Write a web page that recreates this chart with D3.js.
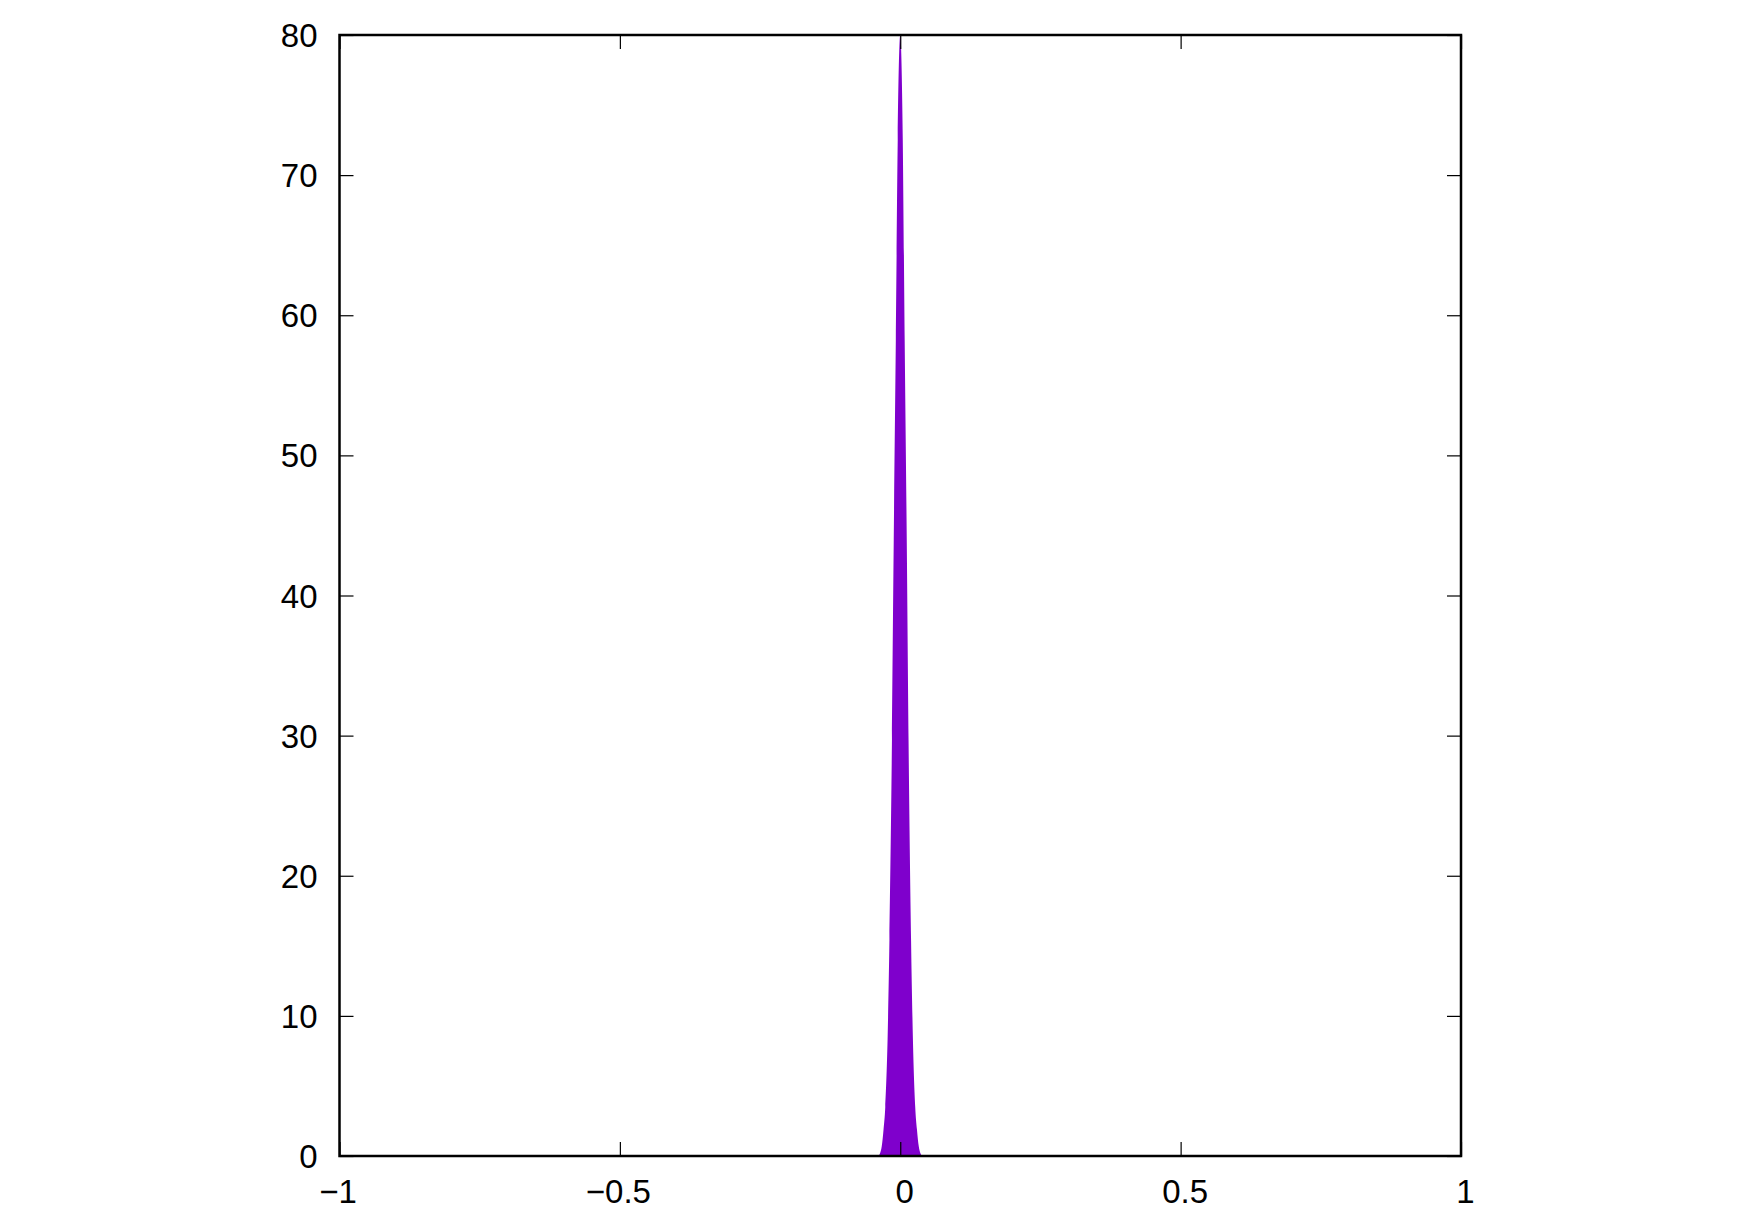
<!DOCTYPE html>
<html>
<head>
<meta charset="utf-8">
<script src="https://cdn.jsdelivr.net/npm/d3@7"></script>
<style>
  body { margin: 0; background: #fff; }
  .axis text { font-family: "Liberation Sans", Arial, sans-serif; font-size: 33px; fill: #000; }
  .axis path { display: none; }
  .axis line { stroke: #000; stroke-width: 1.2; }
</style>
</head>
<body>
<div id="chart"></div>
<script>
// curve points
const xs = [-0.039, -0.036, -0.033, -0.0298, -0.0267, -0.0226, -0.0193, -0.0148, -0.0116, -0.0079, -0.0045, 0,
             0.0045, 0.0079, 0.0116, 0.0148, 0.0193, 0.0226, 0.0267, 0.0298, 0.033, 0.036, 0.039];
const ys = [0, 0.2, 0.7, 1.9, 3.5, 8.3, 15.4, 29.7, 44, 58.2, 72.5, 80,
            72.5, 58.2, 44, 29.7, 15.4, 8.3, 3.5, 1.9, 0.7, 0.2, 0];
const xTicks = [-1, -0.5, 0, 0.5, 1];
const yTicks = [0, 10, 20, 30, 40, 50, 60, 70, 80];

const width = 1749, height = 1225;
const margin = {left: 339.5, right: 288, top: 35, bottom: 69};
const tickLen = 14;

const svg = d3.select('#chart')
    .append('svg')
    .attr('width', width)
    .attr('height', height);

const x = d3.scaleLinear().domain([-1, 1]).range([margin.left, width - margin.right]);
const y = d3.scaleLinear().domain([0, 80]).range([height - margin.bottom, margin.top]);

const points = xs.map((d, i) => [d, ys[i]]);

//filled peak
svg.append('path')
    .datum(points)
    .attr('fill', '#7f00cc')
    .attr('d', d3.area()
        .x(d => x(d[0]))
        .y0(y(0))
        .y1(d => y(d[1]))
        .curve(d3.curveMonotoneX));

//bottom axis with inward ticks
const fmt = d3.format('');
svg.append('g')
    .attr('class', 'axis')
    .attr('transform', 'translate(0,' + y(0) + ')')
    .call(d3.axisTop(x).tickValues(xTicks).tickSize(tickLen).tickFormat(''))
    .call(g => g.selectAll('.tick').append('text')
        .attr('y', 47)
        .attr('dx', d => d >= 0 ? 4 : -2)
        .attr('text-anchor', 'middle')
        .text(d => fmt(d)));

//top mirror ticks
svg.append('g')
    .attr('class', 'axis')
    .attr('transform', 'translate(0,' + y(80) + ')')
    .call(d3.axisBottom(x).tickValues(xTicks).tickSize(tickLen).tickFormat(''));

//left axis
svg.append('g')
    .attr('class', 'axis')
    .attr('transform', 'translate(' + x(-1) + ',0)')
    .call(d3.axisRight(y).tickValues(yTicks).tickSize(tickLen).tickFormat(''))
    .call(g => g.selectAll('.tick').append('text')
        .attr('x', -22)
        .attr('dy', '0.35em')
        .attr('text-anchor', 'end')
        .text(d => d));

//right mirror ticks
svg.append('g')
    .attr('class', 'axis')
    .attr('transform', 'translate(' + x(1) + ',0)')
    .call(d3.axisLeft(y).tickValues(yTicks).tickSize(tickLen).tickFormat(''));

//frame
svg.append('rect')
    .attr('x', x(-1))
    .attr('y', y(80))
    .attr('width', x(1) - x(-1))
    .attr('height', y(0) - y(80))
    .attr('fill', 'none')
    .attr('stroke', '#000')
    .attr('stroke-width', 2.5);
</script>
</body>
</html>
